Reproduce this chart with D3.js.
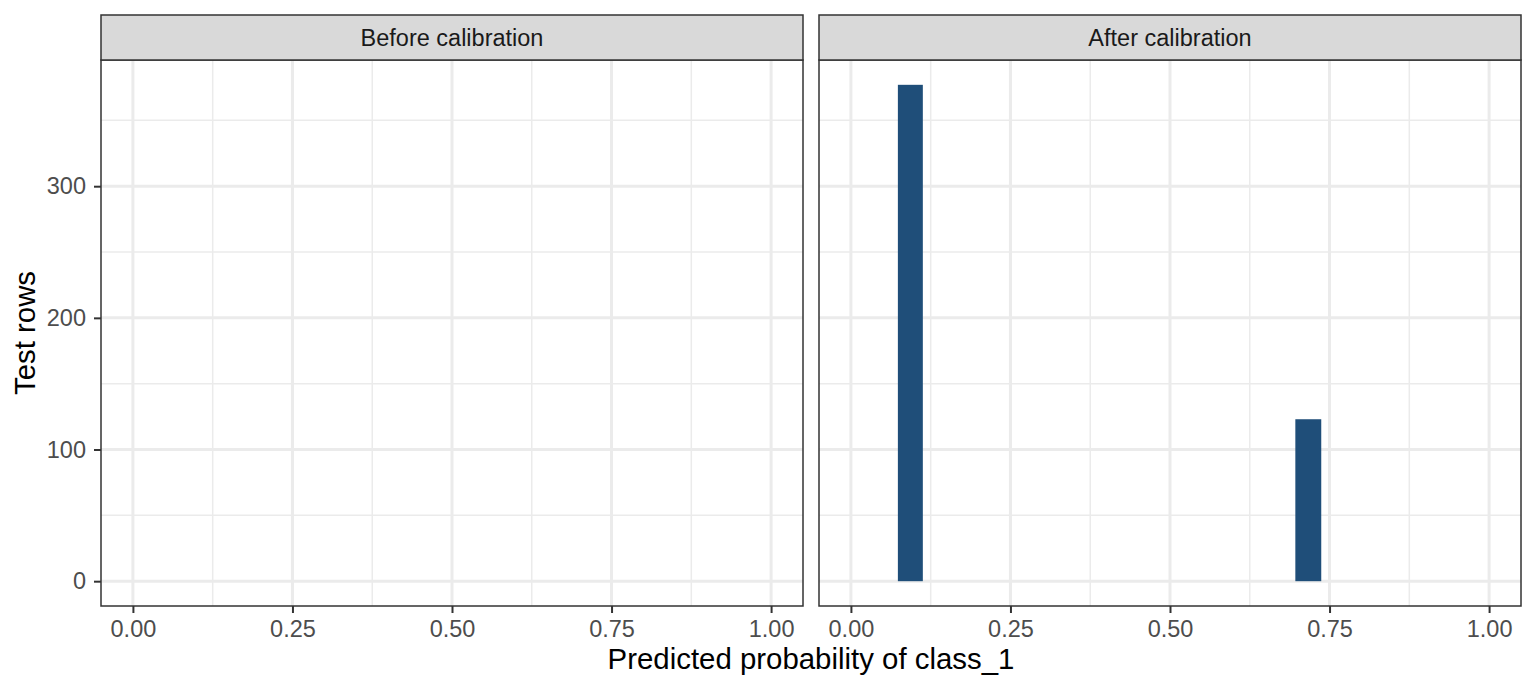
<!DOCTYPE html>
<html>
<head>
<meta charset="utf-8">
<script src="https://cdn.jsdelivr.net/npm/d3@7"></script>
<style>
  body { margin: 0; background: #fff; }
  text { font-family: "Liberation Sans", Arial, sans-serif; }
</style>
</head>
<body>
<svg id="chart" width="1536" height="691"></svg>
<script>
// facet labels
var panels = ["Before calibration", "After calibration"];

// histogram bins per facet (bin start, bin end, count)
var beforeBinStart = [];
var beforeBinEnd = [];
var beforeCounts = [];

var afterBinStart = [0.0736, 0.6964];
var afterBinEnd = [0.1127, 0.7370];
var afterCounts = [377, 123];

var xTicks = [0, 0.25, 0.5, 0.75, 1];
var xMinor = [0.125, 0.375, 0.625, 0.875];
var yTicks = [0, 100, 200, 300];
var yMinor = [50, 150, 250, 350];

var binsByPanel = [
    beforeCounts.map(function(n, i) { return { x0: beforeBinStart[i], x1: beforeBinEnd[i], n: n }; }),
    afterCounts.map(function(n, i) { return { x0: afterBinStart[i], x1: afterBinEnd[i], n: n }; })
];

var svg = d3.select("#chart");

var panelLefts = [101, 819],
    panelWidth = 702,
    stripTop = 15,
    panelTop = 60,
    panelBottom = 606,
    tickLen = 7,
    tickFont = 23.5,
    titleFont = 29.4,
    grey20 = "#333333";

var yMax = d3.max(afterCounts.concat(beforeCounts));

var x = d3.scaleLinear().domain([-0.05, 1.05]).range([0, panelWidth]);
var y = d3.scaleLinear().domain([-0.05 * yMax, 1.05 * yMax]).range([panelBottom, panelTop]);

panels.forEach(function(label, p) {
    var g = svg.append("g")
        .attr("transform", "translate(" + panelLefts[p] + ",0)");

    // minor grid
    g.selectAll("line.xminor").data(xMinor).enter().append("line")
        .attr("x1", function(d) { return x(d); })
        .attr("x2", function(d) { return x(d); })
        .attr("y1", panelTop).attr("y2", panelBottom)
        .attr("stroke", "#ebebeb").attr("stroke-width", 1.5);
    g.selectAll("line.yminor").data(yMinor).enter().append("line")
        .attr("x1", 0).attr("x2", panelWidth)
        .attr("y1", function(d) { return y(d); })
        .attr("y2", function(d) { return y(d); })
        .attr("stroke", "#ebebeb").attr("stroke-width", 1.5);

    // major grid
    g.selectAll("line.xmajor").data(xTicks).enter().append("line")
        .attr("x1", function(d) { return x(d); })
        .attr("x2", function(d) { return x(d); })
        .attr("y1", panelTop).attr("y2", panelBottom)
        .attr("stroke", "#ebebeb").attr("stroke-width", 3);
    g.selectAll("line.ymajor").data(yTicks).enter().append("line")
        .attr("x1", 0).attr("x2", panelWidth)
        .attr("y1", function(d) { return y(d); })
        .attr("y2", function(d) { return y(d); })
        .attr("stroke", "#ebebeb").attr("stroke-width", 3);

    // bars
    g.selectAll("rect.bar").data(binsByPanel[p]).enter().append("rect")
        .attr("class", "bar")
        .attr("x", function(d) { return x(d.x0); })
        .attr("width", function(d) { return x(d.x1) - x(d.x0); })
        .attr("y", function(d) { return y(d.n); })
        .attr("height", function(d) { return y(0) - y(d.n); })
        .attr("fill", "#1f4e79");

    // panel border
    g.append("rect")
        .attr("x", 0).attr("y", panelTop)
        .attr("width", panelWidth).attr("height", panelBottom - panelTop)
        .attr("fill", "none").attr("stroke", grey20).attr("stroke-width", 1.5);

    // strip
    g.append("rect")
        .attr("x", 0).attr("y", stripTop)
        .attr("width", panelWidth).attr("height", panelTop - stripTop)
        .attr("fill", "#d9d9d9").attr("stroke", grey20).attr("stroke-width", 1.5);
    g.append("text")
        .attr("x", panelWidth / 2).attr("y", 46)
        .attr("text-anchor", "middle")
        .attr("font-size", tickFont).attr("fill", "#1a1a1a")
        .text(label);

    // x axis
    var xa = g.append("g").attr("transform", "translate(0," + panelBottom + ")")
        .call(d3.axisBottom(x).tickValues(xTicks).tickSize(tickLen).tickPadding(7)
            .tickFormat(d3.format(".2f")));
    xa.select(".domain").remove();
    xa.selectAll(".tick line").attr("stroke", grey20).attr("stroke-width", 2);
    xa.selectAll(".tick text").attr("font-size", tickFont).attr("fill", "#4d4d4d")
        .attr("font-family", "Liberation Sans, Arial, sans-serif");

    if (p === 0) {
        var ya = g.append("g")
            .call(d3.axisLeft(y).tickValues(yTicks).tickSize(tickLen).tickPadding(8));
        ya.select(".domain").remove();
        ya.selectAll(".tick line").attr("stroke", grey20).attr("stroke-width", 2);
        ya.selectAll(".tick text").attr("font-size", tickFont).attr("fill", "#4d4d4d")
            .attr("font-family", "Liberation Sans, Arial, sans-serif");
    }
});

// axis titles
svg.append("text")
    .attr("x", (panelLefts[0] + panelLefts[1] + panelWidth) / 2)
    .attr("y", 669)
    .attr("text-anchor", "middle")
    .attr("font-size", titleFont).attr("fill", "#000")
    .text("Predicted probability of class_1");

svg.append("text")
    .attr("transform", "translate(35," + (panelTop + panelBottom) / 2 + ") rotate(-90)")
    .attr("text-anchor", "middle")
    .attr("font-size", titleFont).attr("fill", "#000")
    .text("Test rows");
</script>
</body>
</html>
